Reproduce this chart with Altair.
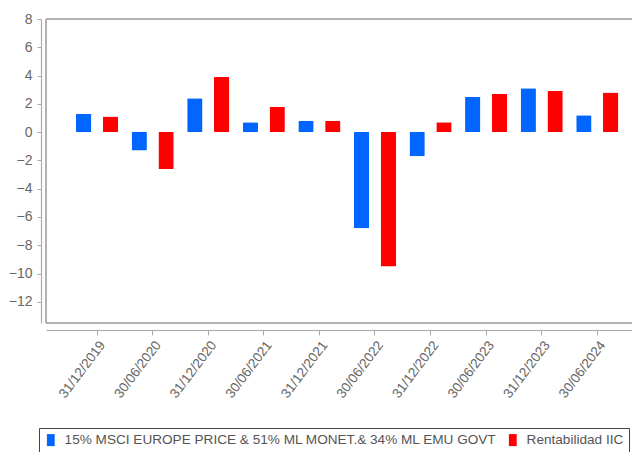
import altair as alt
import pandas as pd

dates = ["31/12/2019", "30/06/2020", "31/12/2020", "30/06/2021", "31/12/2021",
         "30/06/2022", "31/12/2022", "30/06/2023", "31/12/2023", "30/06/2024"]
benchmark = [1.3, -1.3, 2.4, 0.7, 0.8, -6.8, -1.7, 2.5, 3.1, 1.2]
fund = [1.1, -2.6, 3.9, 1.8, 0.8, -9.5, 0.7, 2.7, 2.9, 2.8]
series = ["15% MSCI EUROPE PRICE & 51% ML MONET.& 34% ML EMU GOVT", "Rentabilidad IIC"]
colors = ["#0066ff", "#ff0000"]
y_ticks = list(range(-12, 9, 2))

rows = []
for d, b, f in zip(dates, benchmark, fund):
    rows.append({"fecha": d, "serie": series[0], "valor": b})
    rows.append({"fecha": d, "serie": series[1], "valor": f})
df = pd.DataFrame(rows)

W, H = 586, 304
REG = "'Liberation Sans', Arial, sans-serif"

bars = alt.Chart(df).mark_bar(cornerRadius=1).encode(
    x=alt.X("fecha:N", sort=dates, title=None,
            scale=alt.Scale(paddingInner=0, paddingOuter=0.272, align=0.77),
            axis=alt.Axis(labelAngle=-53, labelAlign="right", labelBaseline="top",
                          offset=7, labelFont=REG, labelFontSize=13.5,
                          labelPadding=3, tickSize=5)),
    xOffset=alt.XOffset("serie:N", sort=series,
                        scale=alt.Scale(paddingInner=0.429, paddingOuter=0.251)),
    y=alt.Y("valor:Q", title=None,
            scale=alt.Scale(domain=[-13.5, 8], nice=False),
            axis=alt.Axis(values=y_ticks, offset=5, grid=False, labelFont=REG,
                          labelFontSize=14, tickSize=4, labelPadding=5)),
    color=alt.Color("serie:N", sort=series,
                    scale=alt.Scale(domain=series, range=colors),
                    legend=alt.Legend(orient="none", legendX=-7, legendY=409,
                                      direction="horizontal", title=None,
                                      strokeColor="#444", fillColor="white",
                                      padding=5, symbolType="M-0.65,-1H0.65V1H-0.65Z",
                                      symbolSize=144, symbolStrokeWidth=0,
                                      labelFont=REG, labelFontSize=13.6,
                                      labelColor="#555", labelLimit=700,
                                      labelOffset=7, columnPadding=9)),
)

base = alt.Chart(pd.DataFrame({"k": [0]}))
top_line = base.mark_rule(color="#999", strokeWidth=1.5).encode(
    x=alt.value(0), x2=alt.value(W), y=alt.value(0))
left_line = base.mark_rule(color="#999", strokeWidth=1.5).encode(
    x=alt.value(0), y=alt.value(0), y2=alt.value(H))
bottom_line = base.mark_rule(color="#999", strokeWidth=1.5).encode(
    x=alt.value(0), x2=alt.value(W), y=alt.value(H))

chart = alt.layer(top_line, left_line, bottom_line, bars).properties(
    width=W, height=H,
    padding={"left": 38, "top": 11, "right": 0, "bottom": 135},
    autosize=alt.AutoSizeParams(type="none"),
).configure_view(stroke=None).configure_axis(
    domainColor="#aaa", tickColor="#aaa", labelColor="#666", domainWidth=1.2
)

chart.save("out.html", embed_options={"renderer": "svg", "actions": False})
